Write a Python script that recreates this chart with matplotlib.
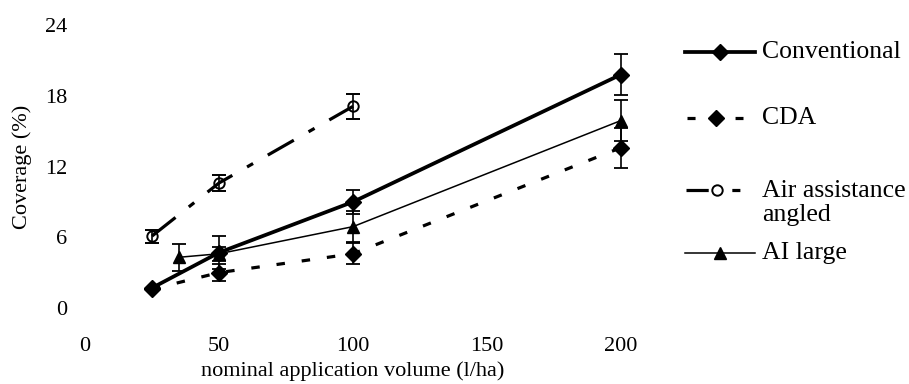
import matplotlib
matplotlib.use('Agg')
import matplotlib.pyplot as plt
from matplotlib.lines import Line2D

## Données

vol_conv = [25, 50, 100, 200]
cov_conv = [1.7, 4.7, 9.0, 19.8]
err_conv = [0.0, 1.4, 1.0, 1.7]

vol_cda = [25, 50, 100, 200]
cov_cda = [1.6, 3.0, 4.6, 13.6]
err_cda = [0.0, 0.7, 0.9, 1.7]

vol_air = [25, 50, 100]
cov_air = [6.1, 10.6, 17.1]
err_air = [0.55, 0.7, 1.05]

vol_ai = [35, 50, 100, 200]
cov_ai = [4.3, 4.6, 6.9, 15.9]
err_ai = [1.15, 0.6, 1.3, 1.7]

x_ticks = [0, 50, 100, 150, 200]
y_ticks = [0, 6, 12, 18, 24]

labels = ['Conventional', 'CDA', 'Air assistance\nangled', 'AI large']

## Styles

plt.rcParams['font.family'] = 'Liberation Serif'
plt.rcParams['lines.scale_dashes'] = False

W, H = 909, 384
dash_cda = (0, (6.1, 12.2))
dash_air = (0, (21.6, 12.2, 5.0, 12.2))
eb = dict(color='k', capsize=5, elinewidth=1.2, capthick=1.3, clip_on=False)

fig = plt.figure(figsize=(W / 100, H / 100), dpi=100)
ax = fig.add_axes([85 / W, 76 / H, 536 / W, 283 / H])

ax.errorbar(vol_cda, cov_cda, yerr=err_cda, ls=dash_cda, lw=2.3,
            marker='D', ms=8, zorder=3, **eb)
ax.errorbar(vol_ai, cov_ai, yerr=err_ai, ls='-', lw=1.1,
            marker='^', ms=9, zorder=4, **eb)
ax.errorbar(vol_conv, cov_conv, yerr=err_conv, ls='-', lw=2.7,
            marker='D', ms=8, zorder=5, **eb)
ax.errorbar(vol_air, cov_air, yerr=err_air, ls=dash_air, lw=2.3,
            marker='o', ms=7.5, mfc='none', mew=1.4, zorder=6, **eb)

ax.set_xlim(0, 200)
ax.set_ylim(0, 24)
ax.set_xticks(x_ticks)
ax.set_yticks(y_ticks)
for s in ax.spines.values():
    s.set_visible(False)
ax.tick_params(length=0, labelsize=16)
ax.tick_params(axis='x', pad=21)
ax.tick_params(axis='y', pad=13)
ax.set_xlabel('nominal application volume (l/ha)', fontsize=16, labelpad=4)
ax.set_ylabel('Coverage (%)', fontsize=16, labelpad=9)

## Légende faite à la main (positions en pixels)

def fx(p):
    return p / W

def fy(p):
    return 1 - p / H

rows = [52, 118, 190, 253]
text_rows = [52, 118, 203, 253]
tr = fig.transFigure
# Conventional
fig.add_artist(Line2D([fx(685), fx(755)], [fy(rows[0])] * 2, color='k', lw=2.7, transform=tr))
fig.add_artist(Line2D([fx(720)], [fy(rows[0])], color='k', marker='D', ms=8, transform=tr))
# CDA
fig.add_artist(Line2D([fx(687), fx(743)], [fy(rows[1])] * 2, color='k', lw=2.3,
                      ls=(0, (5.8, 28.8)), transform=tr))
fig.add_artist(Line2D([fx(716)], [fy(rows[1])], color='k', marker='D', ms=8, transform=tr))
# Air assistance angled
fig.add_artist(Line2D([fx(686), fx(741)], [fy(rows[2])] * 2, color='k', lw=2.3,
                      ls=(0, (16, 17, 5.8, 60)), transform=tr))
fig.add_artist(Line2D([fx(717)], [fy(rows[2])], color='k', marker='o', ms=7.5,
                      mfc='white', mew=1.4, transform=tr))
# AI large
fig.add_artist(Line2D([fx(685), fx(755)], [fy(rows[3])] * 2, color='k', lw=1.1, transform=tr))
fig.add_artist(Line2D([fx(720)], [fy(rows[3])], color='k', marker='^', ms=9, transform=tr))

for lab, r in zip(labels, text_rows):
    fig.text(fx(762), fy(r), lab, fontsize=18.5, ha='left', va='center',
             linespacing=1.1)

fig.savefig('out.png', dpi=100)
